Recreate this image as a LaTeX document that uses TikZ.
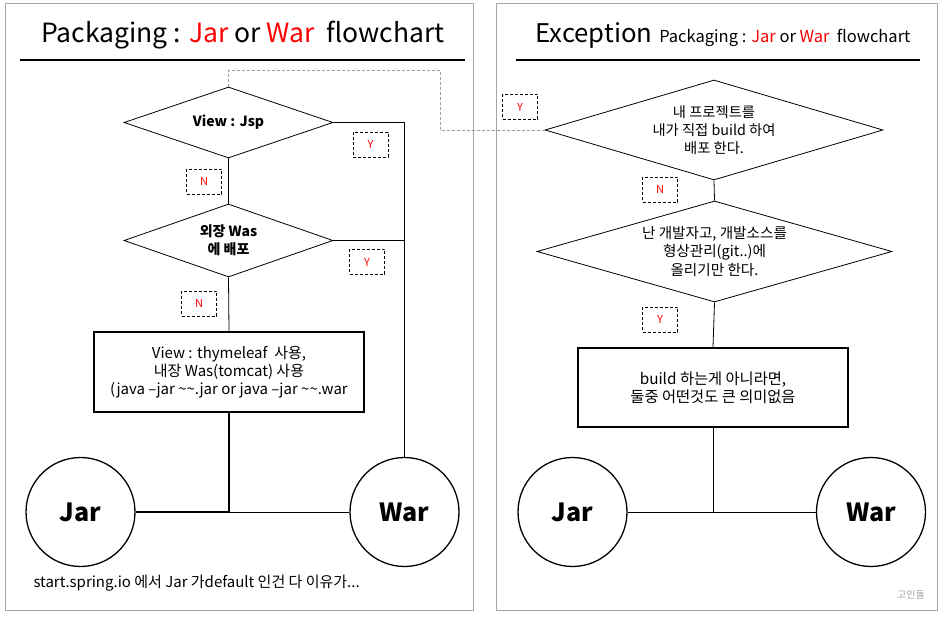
\documentclass[tikz,border=0pt]{standalone}
\usepackage{fontspec}
\setmainfont{Noto Sans CJK KR}
\usetikzlibrary{shapes.geometric}
\definecolor{framegray}{RGB}{166,166,166}
\definecolor{dashgray}{RGB}{160,160,160}
\definecolor{marktext}{RGB}{255,0,0}
\newcommand{\fs}[2]{\fontsize{#1}{#2}\selectfont}
\begin{document}
\begin{tikzpicture}[x=1pt, y=-1pt,
	panel/.style = {draw=framegray, line width=1pt},
	decision/.style = {draw, diamond, inner sep=0pt, line width=0.8pt, align=center},
	process/.style = {draw, rectangle, line width=2.2pt, minimum width=270pt, minimum height=80pt, align=center, font=\fs{15}{18.3}},
	result/.style = {draw, circle, line width=1.3pt, minimum size=109pt, inner sep=0pt, font=\bfseries\fs{25}{30}},
	yesno/.style = {draw, densely dashed, line width=0.7pt, minimum width=35pt, minimum height=25pt, inner sep=0pt, text=marktext, font=\fs{11}{13}},
	link/.style = {line width=0.8pt},
	jump/.style = {draw=dashgray, densely dashed, line width=0.8pt}]
		
		\useasboundingbox (0,0) rectangle (945,617);
		
		\draw[panel] (5,4) rectangle (473,610);
		\draw[panel] (496,4) rectangle (937,610);
		
		% left panel
		\node[anchor=base, font=\fs{26.5}{30}] (title1) at (243,43) {Packaging : \textcolor{red}{Jar} or \textcolor{red}{War}\ \ flowchart};
		\draw[line width=2pt] (20,60) -- (465,60);
		
		\node[decision, aspect=2.94, minimum width=209pt, minimum height=71pt, font=\bfseries\fs{14}{18}] (jsp) at (228.5,122.5) {View : Jsp};
		\node[decision, aspect=2.86, minimum width=209pt, minimum height=73pt, font=\bfseries\fs{14}{18.3}] (was) at (228.5,240.5) {외장 Was\\에 배포};
		\node[process] (boot) at (229,372) {View : thymeleaf\ \ 사용,\\내장 Was(tomcat) 사용\\(java –jar \textasciitilde\textasciitilde.jar or java –jar \textasciitilde\textasciitilde.war};
		\node[result] (jar1) at (80.5,512) {Jar};
		\node[result] (war1) at (404.5,512) {War};
		
		\node[yesno] (y1) at (370.5,144.5) {Y};
		\node[yesno] (n1) at (204,181.5) {N};
		\node[yesno] (y2) at (367,262) {Y};
		\node[yesno] (n2) at (199,303.5) {N};
		
		\draw[link] (jsp.south) -- (was.north);
		\draw[link] (was.south) -- (boot.north);
		\draw[link] (jsp.east) -| (war1.north);
		\draw[link] (was.east) -- (was.east -| war1.north);
		\draw[line width=2.6pt] (boot.south) |- (jar1.east);
		\draw[link] (boot.south |- war1.west) -- (war1.west);
		
		\node[anchor=west, font=\fs{15}{18}] (note) at (30,583) {start.spring.io 에서 Jar 가default 인건 다 이유가...};
		
		% right panel
		\node[anchor=base west] (title2) at (532,43) {{\fs{25.7}{30}Exception}\hspace{7pt}{\fs{16.5}{20}Packaging : \textcolor{red}{Jar} or \textcolor{red}{War}\ \ flowchart}};
		\draw[line width=2pt] (516,60) -- (920,60);
		
		\node[decision, aspect=3.38, minimum width=338pt, minimum height=100pt, font=\fs{14.3}{18.3}] (self) at (714,130) {내 프로젝트를\\내가 직접 build 하여\\배포 한다.};
		\node[decision, aspect=3.5, minimum width=355pt, minimum height=101pt, font=\fs{14.6}{18.3}] (dev) at (714.5,251.5) {난 개발자고, 개발소스를\\형상관리(git..)에\\올리기만 한다.};
		\node[process, minimum height=79pt, font=\fs{15.3}{18.3}] (none) at (713,387.5) {build 하는게 아니라면,\\둘중 어떤것도 큰 의미없음};
		\node[result] (jar2) at (572.5,512) {Jar};
		\node[result] (war2) at (871,512) {War};
		
		\node[yesno] (y3) at (520,107) {Y};
		\node[yesno] (n3) at (660,189.5) {N};
		\node[yesno] (y4) at (660,319.5) {Y};
		
		\draw[link] (self.south) -- (dev.north);
		\draw[link] (dev.south) -- (none.north);
		\draw[link] (none.south) -- (none.south |- jar2.east);
		\draw[link] (jar2.east) -- (war2.west);
		
		\coordinate (bend) at (440,70);
		\draw[jump] (jsp.north) |- (bend) |- (self.west);
		
		\node[text=framegray, font=\fs{10}{12}] (sign) at (911,595) {고인돌};
		
	\end{tikzpicture}
\end{document}
